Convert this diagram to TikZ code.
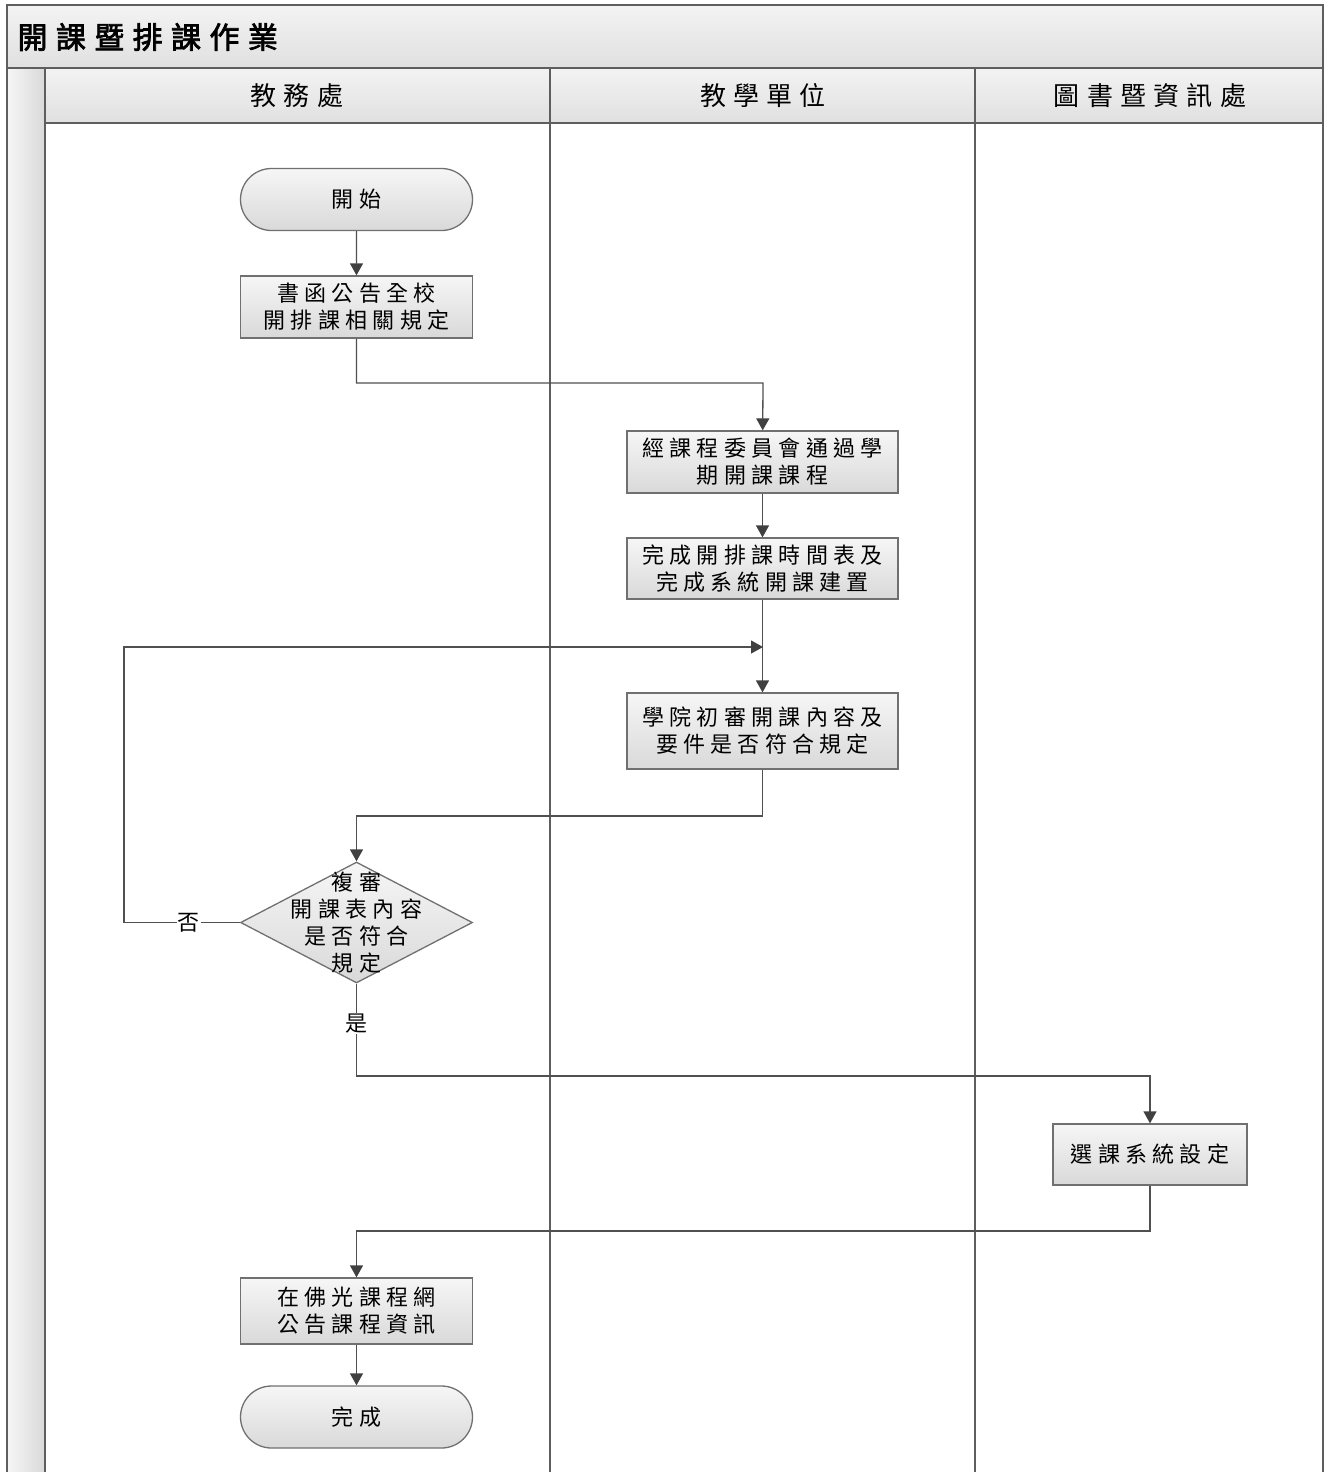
\documentclass[tikz,border=0pt]{standalone}
\usepackage{fontspec}
\usetikzlibrary{shapes.geometric,shapes.misc,arrows.meta}

\newfontfamily\boxfont[LetterSpace=24]{Noto Sans CJK TC}
\newfontfamily\lanefont[LetterSpace=28]{Noto Sans CJK TC}
\newfontfamily\titlefont[LetterSpace=28,FakeBold=2.5]{Noto Sans CJK TC}

\definecolor{frameline}{HTML}{5E5E5E}
\definecolor{boxline}{HTML}{707070}
\definecolor{flowline}{HTML}{505050}
\definecolor{tipcol}{HTML}{404040}
\definecolor{shadetop}{HTML}{F6F6F6}
\definecolor{shadebot}{HTML}{D9D9D9}
\definecolor{bandtop}{HTML}{F3F3F3}
\definecolor{bandbot}{HTML}{E0E0E0}

\tikzset{
  boxtxt/.style={font=\boxfont\fontsize{22}{27}\selectfont, align=center},
  procbox/.style={boxtxt, draw=boxline, line width=1.3pt, top color=shadetop, bottom color=shadebot,
    minimum width=232pt, minimum height=62pt, inner sep=0pt},
  termbox/.style={procbox, rounded rectangle},
  checkbox/.style={diamond, draw=boxline, line width=1.3pt, top color=shadetop, bottom color=shadebot,
    minimum width=232pt, minimum height=121pt, inner sep=0pt, aspect=1.92},
  flow/.style={draw=flowline, line width=1.3pt, -{Triangle[length=12pt,width=13pt,color=tipcol]}},
  lbl/.style={boxtxt, fill=white, inner sep=1pt},
  lanetxt/.style={font=\lanefont\fontsize{26}{30}\selectfont},
  laneline/.style={draw=frameline, line width=1.5pt},
}

\begin{document}
\begin{tikzpicture}[x=1pt, y=-1pt]
  \useasboundingbox (0,0) rectangle (1324,1472);

  % 標題列及泳道
  \shade[top color=bandtop, bottom color=bandbot] (7,5) rectangle (1323,68);
  \shade[left color=shadetop, right color=shadebot] (7,68) rectangle (45,1490);
  \shade[top color=bandtop, bottom color=bandbot] (45,68) rectangle (1323,123);
  \node[anchor=west, font=\titlefont\fontsize{30}{34}\selectfont] (title) at (14,37) {開課暨排課作業};
  \node[lanetxt] (lane1) at (297,96) {教務處};
  \node[lanetxt] (lane2) at (763,96) {教學單位};
  \node[lanetxt] (lane3) at (1150,96) {圖書暨資訊處};
  \draw[laneline] (7,5) rectangle (1323,1490);
  \draw[laneline] (7,68) -- (1323,68);
  \draw[laneline] (45,123) -- (1323,123);
  \draw[laneline] (45,68) -- (45,1490);
  \draw[laneline] (550,68) -- (550,1490);
  \draw[laneline] (975,68) -- (975,1490);

  % 流程方塊
  \node[termbox] (start) at (356.5,199.5) {開始};
  \node[procbox] (notice) at (356.5,307) {書函公告全校\\開排課相關規定};
  \node[procbox, minimum width=271pt] (pass) at (762.5,462) {經課程委員會通過學\\期開課課程};
  \node[procbox, minimum width=271pt, minimum height=61pt] (sched) at (762.5,568.5) {完成開排課時間表及\\完成系統開課建置};
  \node[procbox, minimum width=271pt, minimum height=76pt] (college) at (762.5,731) {學院初審開課內容及\\要件是否符合規定};
  \node[checkbox] (check) at (356.5,922.5) {};
  \node[boxtxt] (checktxt) at (356.5,923) {複審\\開課表內容\\是否符合\\規定};
  \node[procbox, minimum width=194pt, minimum height=61pt] (sys) at (1150,1154.5) {選課系統設定};
  \node[procbox, minimum height=66pt] (web) at (356.5,1311) {在佛光課程網\\公告課程資訊};
  \node[termbox] (finish) at (356.5,1417) {完成};

  % 轉折點
  \coordinate (j1) at (763,383);
  \coordinate (merge) at (763,647);
  \coordinate (j2) at (356.5,816);
  \coordinate (back) at (124,922.5);
  \coordinate (j3) at (356.5,1076);
  \coordinate (j4) at (356.5,1231);

  % 連線
  \draw[flow] (start) -- (notice);
  \draw[flow] (notice) |- (j1) -- (pass);
  \draw[flow] (pass) -- (sched);
  \draw[flow] (sched) -- (college);
  \draw[flow] (college) |- (j2) -- (check);
  \draw[flow] (check.west) -- node[lbl, pos=.44] (no) {否} (back) |- (merge);
  \draw[flow] (check.south) -- node[lbl, pos=.43] (yes) {是} (j3) -| (sys);
  \draw[flow] (sys) |- (j4) -- (web);
  \draw[flow] (web) -- (finish);
\end{tikzpicture}
\end{document}
